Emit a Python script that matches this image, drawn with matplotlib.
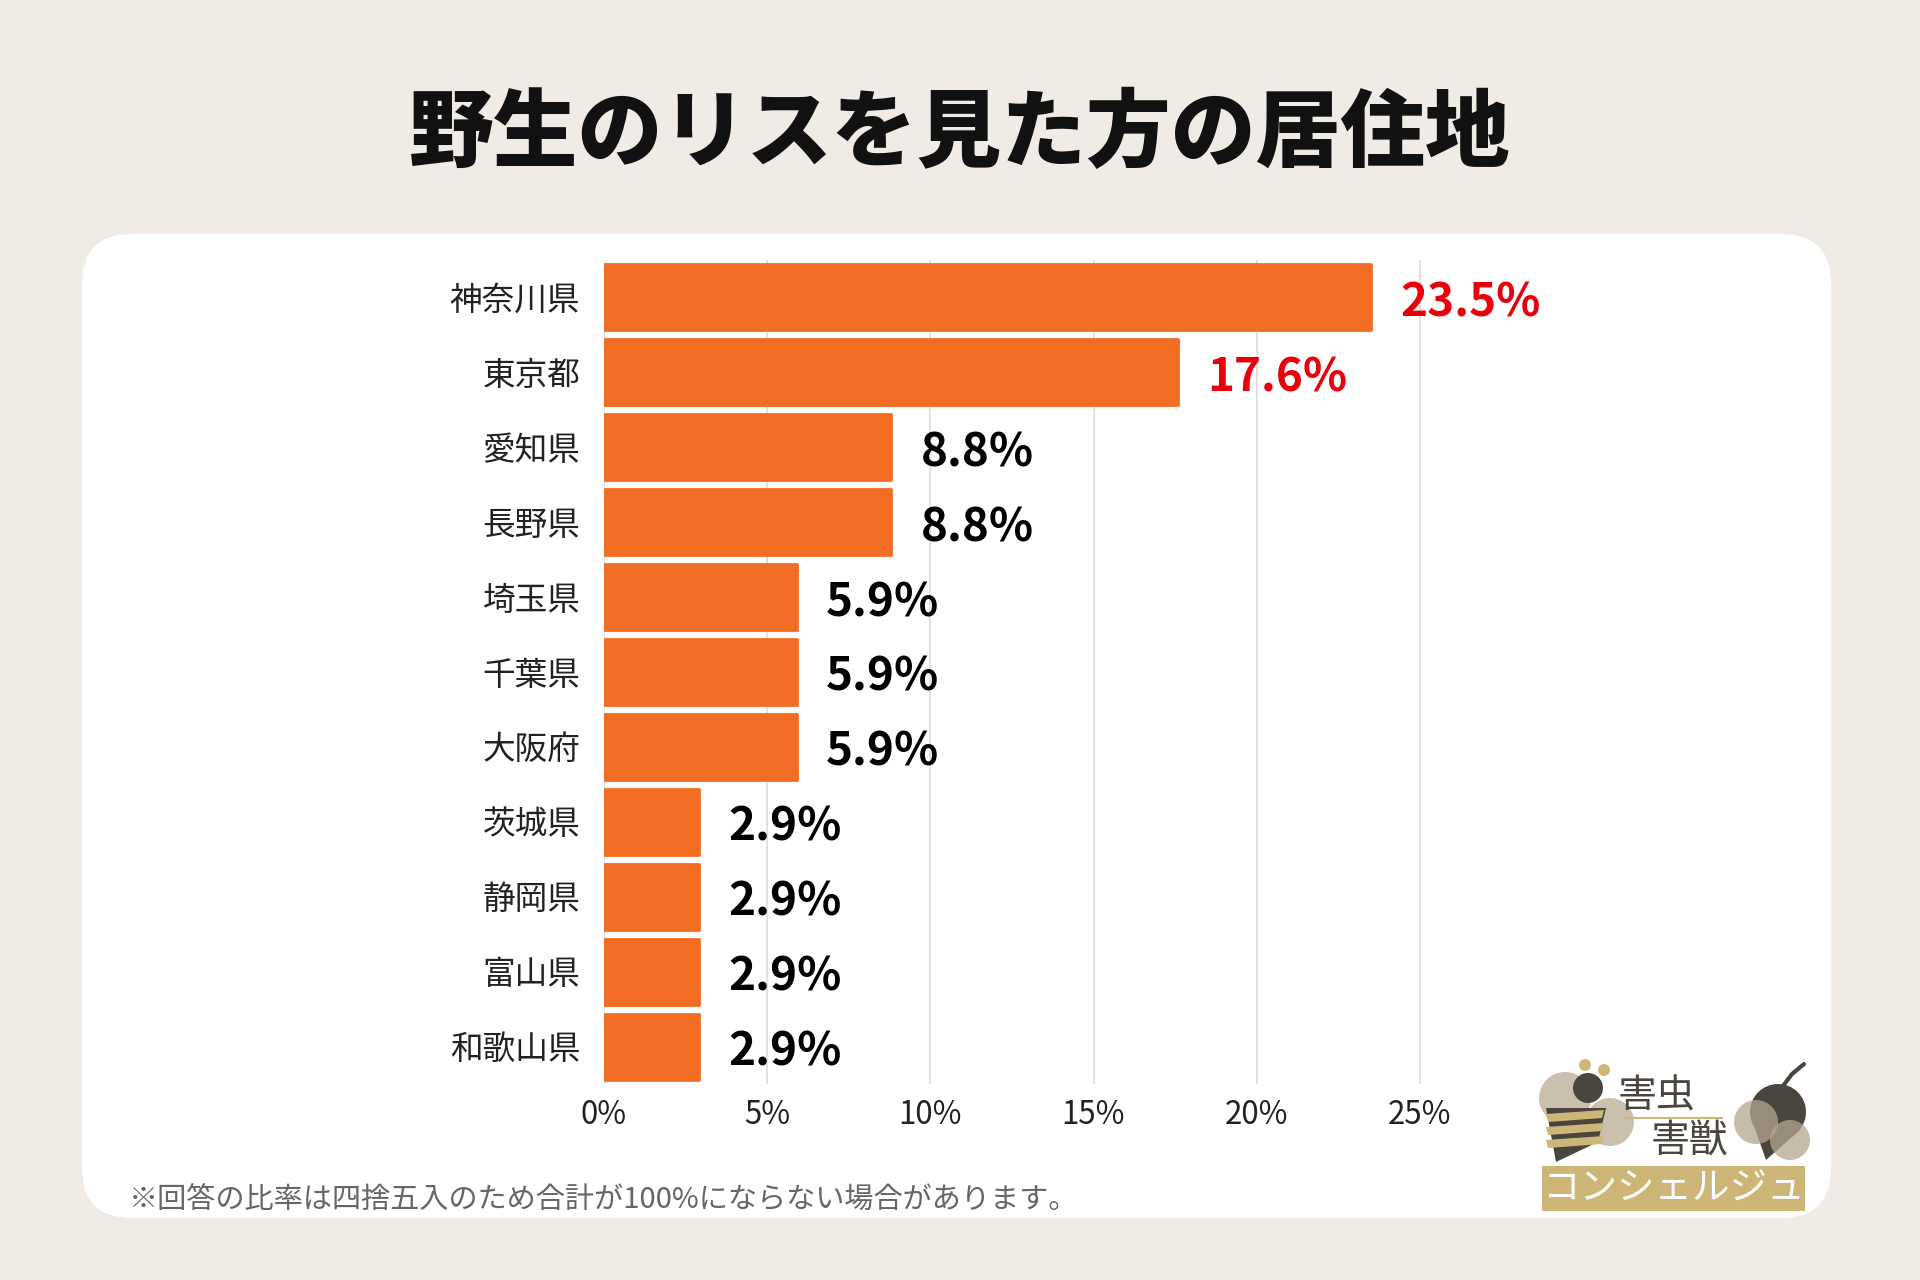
import matplotlib.pyplot as plt
from matplotlib.patches import FancyBboxPatch, Circle, Rectangle, Polygon

plt.rcParams['font.family'] = ['Noto Sans CJK JP', 'DejaVu Sans']

# データ
prefectures = ["神奈川県", "東京都", "愛知県", "長野県", "埼玉県", "千葉県",
               "大阪府", "茨城県", "静岡県", "富山県", "和歌山県"]
shares = [23.5, 17.6, 8.8, 8.8, 5.9, 5.9, 5.9, 2.9, 2.9, 2.9, 2.9]
label_colors = ["#E8000B", "#E8000B"] + ["#000000"] * 9
xticks = [0, 5, 10, 15, 20, 25]

W, H = 1920, 1280
BG = "#F0ECE5"
BAR = "#F26D24"

fig = plt.figure(figsize=(19.2, 12.8), dpi=100)
fig.patch.set_facecolor(BG)

# 装飾用のピクセル座標レイヤー
deco = fig.add_axes([0, 0, 1, 1], zorder=0)
deco.set_xlim(0, W)
deco.set_ylim(H, 0)
deco.axis("off")

panel = FancyBboxPatch((82, 234), 1749, 984, boxstyle="round,pad=0,rounding_size=50",
                       facecolor="white", edgecolor="none")
deco.add_patch(panel)

fig.text(0.5, 1 - 135 / H, "野生のリスを見た方の居住地", ha="center", va="center",
         fontsize=61, fontweight="black", color="#111111")

fig.text(129 / W, 1 - 1201 / H, "※回答の比率は四捨五入のため合計が100%にならない場合があります。",
         ha="left", va="center", fontsize=21, color="#666666")

# メイングラフ
ax = fig.add_axes([604 / W, 1 - 1084 / H, 979 / W, 824 / H], zorder=2)
ax.set_facecolor("none")
y = list(range(len(prefectures)))
ax.barh(y, shares, height=0.88, color=BAR, edgecolor=BAR, linewidth=2,
        joinstyle="round", zorder=3)
ax.set_xlim(0, 30)
ax.set_ylim(len(prefectures) - 0.5, -0.5)
ax.set_yticks(y)
ax.set_yticklabels(prefectures, fontsize=23.5, color="#222222")
ax.set_xticks(xticks)
ax.set_xticklabels([f"{t}%" for t in xticks], fontsize=22.5, color="#222222")
ax.tick_params(axis="y", length=0, pad=17)
ax.tick_params(axis="x", length=0, pad=11)
ax.xaxis.grid(True, color="#DDDDDD", linewidth=1.2, zorder=0)
ax.set_axisbelow(True)
for s in ax.spines.values():
    s.set_visible(False)

for yi, v, c in zip(y, shares, label_colors):
    ax.text(v + 0.9, yi + 0.08, f"{v}%", ha="left", va="center",
            fontsize=33, fontweight="bold", color=c, zorder=4)

# ロゴ（簡略）
GOLD = "#CDB677"
DARK = "#4A453E"
TAN = "#B5A58C"
deco.add_patch(Rectangle((1542, 1166), 263, 45, facecolor=GOLD, edgecolor="none", zorder=3))
deco.text(1673, 1189, "コンシェルジュ", ha="center", va="center", fontsize=27,
          color="white", zorder=4)
deco.text(1657, 1097, "害虫", ha="center", va="center", fontsize=28, color=DARK, zorder=4)
deco.text(1690, 1141, "害獣", ha="center", va="center", fontsize=28, color=DARK, zorder=4)
deco.plot([1625, 1722], [1118, 1118], color=GOLD, lw=1.5, zorder=4)
# 蜂
for cx, cy, r in [(1565, 1098, 26), (1610, 1122, 24)]:
    deco.add_patch(Circle((cx, cy), r, facecolor=TAN, alpha=0.7, edgecolor="none", zorder=3))
deco.add_patch(Polygon([(1546, 1108), (1606, 1108), (1598, 1142), (1556, 1162)],
                       closed=True, facecolor=DARK, edgecolor="none", zorder=3))
for k in range(3):
    yy = 1114 + k * 13
    deco.add_patch(Polygon([(1546, yy), (1604, yy - 4), (1602, yy + 4), (1548, yy + 8)],
                           closed=True, facecolor=GOLD, edgecolor="none", zorder=4))
deco.add_patch(Circle((1588, 1088), 15, facecolor=DARK, edgecolor="none", zorder=5))
deco.add_patch(Circle((1585, 1065), 6, facecolor=GOLD, edgecolor="none", zorder=5))
deco.add_patch(Circle((1604, 1070), 6, facecolor=GOLD, edgecolor="none", zorder=5))
# ネズミ
deco.add_patch(Circle((1778, 1112), 28, facecolor=DARK, edgecolor="none", zorder=3))
deco.add_patch(Polygon([(1752, 1120), (1800, 1130), (1766, 1160)], closed=True,
                       facecolor=DARK, edgecolor="none", zorder=3))
deco.add_patch(Circle((1756, 1122), 22, facecolor=TAN, alpha=0.75, edgecolor="none", zorder=4))
deco.add_patch(Circle((1790, 1140), 20, facecolor=TAN, alpha=0.75, edgecolor="none", zorder=4))
deco.plot([1783, 1792, 1804], [1086, 1074, 1064], color=DARK, lw=3, zorder=4,
          solid_capstyle="round")

fig.savefig("out.png", dpi=100, facecolor=BG)
